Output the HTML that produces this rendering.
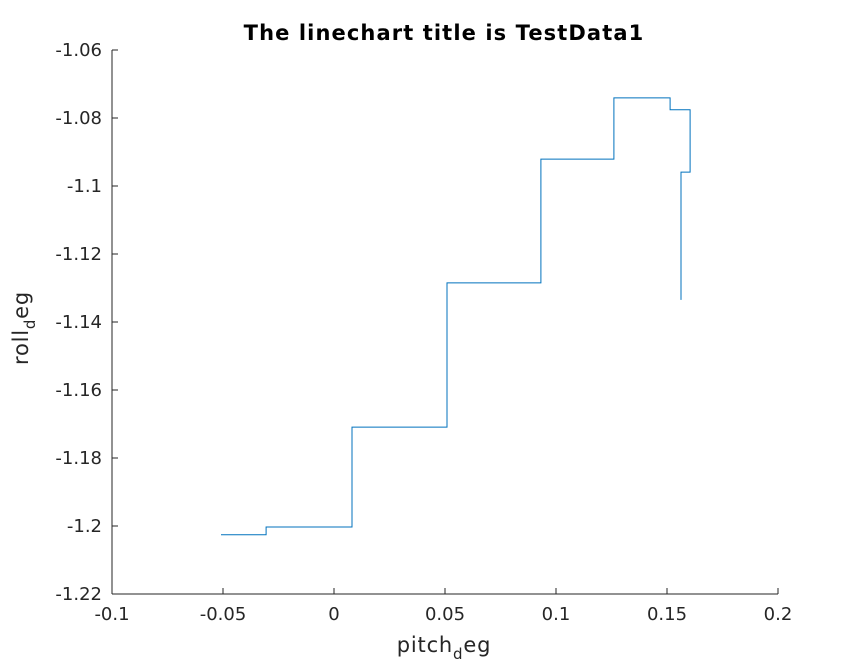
<!DOCTYPE html>
<html><head><meta charset="utf-8"><style>
html,body{margin:0;padding:0;background:#fff;}
svg{display:block;font-family:"DejaVu Sans","Liberation Sans",sans-serif;}
</style></head><body>
<svg id="chart" width="859" height="667" viewBox="0 0 859 667">
<rect width="859" height="667" fill="#fff"/>
<text x="444" y="40" text-anchor="middle" font-size="21" font-weight="bold" letter-spacing="1.1" fill="#000">The linechart title is TestData1</text>
<g id="axes"></g>
<g id="series"></g>
<text x="444" y="652" text-anchor="middle" font-size="21" letter-spacing="0.8" fill="#262626">pitch<tspan font-size="15" dy="7">d</tspan><tspan dy="-7">eg</tspan></text>
<text transform="translate(28,328) rotate(-90)" text-anchor="middle" font-size="21" letter-spacing="0.8" fill="#262626">roll<tspan font-size="15" dy="7">d</tspan><tspan dy="-7">eg</tspan></text>
</svg>
<script>
const xTicks = [-0.1,-0.05,0,0.05,0.1,0.15,0.2];
const xTickLabels = ["-0.1","-0.05","0","0.05","0.1","0.15","0.2"];
const yTicks = [-1.22,-1.2,-1.18,-1.16,-1.14,-1.12,-1.1,-1.08,-1.06];
const yTickLabels = ["-1.22","-1.2","-1.18","-1.16","-1.14","-1.12","-1.1","-1.08","-1.06"];
const pitchValues = [-0.0509,-0.0306,-0.0306,0.0081,0.0081,0.0509,0.0509,0.0932,0.0932,0.1261,0.1261,0.1514,0.1514,0.1604,0.1604,0.1563,0.1563];
const rollValues = [-1.2026,-1.2026,-1.2003,-1.2003,-1.1709,-1.1709,-1.1285,-1.1285,-1.0921,-1.0921,-1.0741,-1.0741,-1.0776,-1.0776,-1.0959,-1.0959,-1.1335];

const NS="http://www.w3.org/2000/svg";
const X0=112,X1=778,Y0=594,Y1=50;
const xMin=-0.1,xMax=0.2,yMin=-1.22,yMax=-1.06;
function xs(v){return X0+(v-xMin)/(xMax-xMin)*(X1-X0);}
function ys(v){return Y0-(v-yMin)/(yMax-yMin)*(Y0-Y1);}
function mk(tag,attrs,parent){const e=document.createElementNS(NS,tag);for(const k in attrs)e.setAttribute(k,attrs[k]);parent.appendChild(e);return e;}
const axes=document.getElementById('axes');
const xl=mk('line',{x1:X0,y1:Y0,x2:X1,y2:Y0,stroke:'#262626','stroke-width':1},axes);


const yl=mk('line',{x1:X0,y1:Y0,x2:X0,y2:Y1,stroke:'#262626','stroke-width':1},axes);


xTicks.forEach((v,i)=>{
  const x=xs(v);
  const t=mk('line',{x1:x,y1:Y0,x2:x,y2:Y0-6,stroke:'#262626'},axes);
  
  
  const l=mk('text',{x:x,y:Y0+26,'text-anchor':'middle','font-size':18,fill:'#262626'},axes);
  l.textContent=xTickLabels[i];
  
  
});
yTicks.forEach((v,i)=>{
  const y=ys(v);
  const t=mk('line',{x1:X0,y1:y,x2:X0+6,y2:y,stroke:'#262626'},axes);
  
  
  const l=mk('text',{x:X0-10,y:y+6,'text-anchor':'end','font-size':18,fill:'#262626'},axes);
  l.textContent=yTickLabels[i];
  
  
});
const pts=pitchValues.map((p,i)=>xs(p).toFixed(1)+','+ys(rollValues[i]).toFixed(1)).join(' ');
const line=mk('polyline',{points:pts,fill:'none',stroke:'#0072bd','stroke-width':1},document.getElementById('series'));


</script>
</body></html>
